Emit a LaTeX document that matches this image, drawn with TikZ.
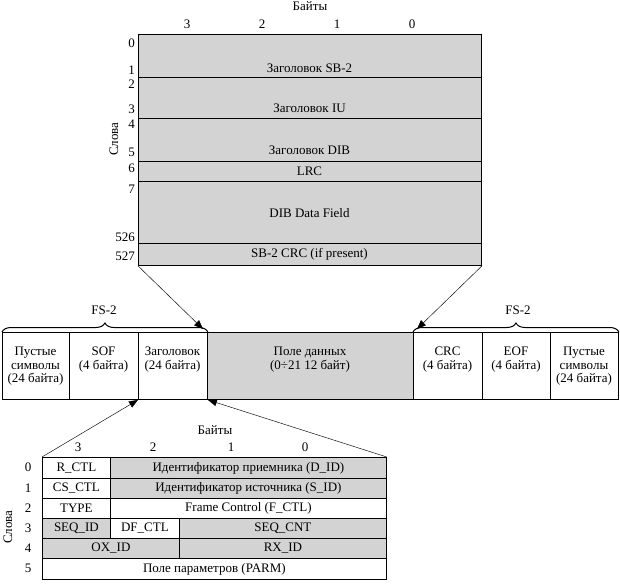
\documentclass[tikz,border=0pt]{standalone}
\usepackage{fontspec}
\setmainfont{Liberation Serif}
\usetikzlibrary{decorations.pathreplacing,arrows.meta}
\definecolor{cellgray}{RGB}{211,211,211}
\begin{document}
\begin{tikzpicture}[x=1pt,y=-1pt,
  every node/.style={font=\fontsize{13}{13.5}\selectfont, inner sep=0pt},
  box/.style={draw, line width=0.9pt, anchor=north west},
  gbox/.style={box, fill=cellgray},
  wbox/.style={box, fill=white},
  txt/.style={align=center, anchor=north},
  conn/.style={line width=0.45pt, -{Triangle[length=9pt,width=7pt]}},
  brc/.style={decorate, decoration={brace, amplitude=9pt}, line width=1pt},
]
\useasboundingbox (0,0) rectangle (620,585);

% ---------- top table ----------
\node[gbox, minimum width=343pt, minimum height=43pt] (sb2) at (138,34) {};
\node[gbox, minimum width=343pt, minimum height=41pt] (iu) at (138,77) {};
\node[gbox, minimum width=343pt, minimum height=43pt] (dib) at (138,118) {};
\node[gbox, minimum width=343pt, minimum height=20pt] (lrc) at (138,161) {};
\node[gbox, minimum width=343pt, minimum height=62pt] (dat) at (138,181) {};
\node[gbox, minimum width=343pt, minimum height=22pt] (sbcrc) at (138,243) {};

\node (tsb2) at (309.5,68) {Заголовок SB-2};
\node (tiu) at (309.5,108) {Заголовок IU};
\node (tdib) at (309.5,150) {Заголовок DIB};
\node (tlrc) at (309.5,171) {LRC};
\node (tdat) at (309.5,213) {DIB Data Field};
\node (tcrc) at (309.5,254) {SB-2 CRC (if present)};

\node (tb) at (310,6) {Байты};
\node (tb3) at (187,24) {3};
\node (tb2) at (262,24) {2};
\node (tb1) at (337,24) {1};
\node (tb0) at (412,24) {0};

\node[anchor=east] (w0) at (135,43) {0};
\node[anchor=east] (w1) at (135,70) {1};
\node[anchor=east] (w2) at (135,84) {2};
\node[anchor=east] (w3) at (135,109) {3};
\node[anchor=east] (w4) at (135,124) {4};
\node[anchor=east] (w5) at (135,152) {5};
\node[anchor=east] (w6) at (135,168) {6};
\node[anchor=east] (w7) at (135,189) {7};
\node[anchor=east] (w526) at (135,237) {526};
\node[anchor=east] (w527) at (135,256) {527};
\node[rotate=90] (tw) at (114,139) {Слова};

% ---------- frame row ----------
\node[wbox, minimum width=67pt, minimum height=67pt] (idle1) at (2,332) {};
\node[wbox, minimum width=69pt, minimum height=67pt] (sof) at (69,332) {};
\node[wbox, minimum width=69pt, minimum height=67pt] (hdr) at (138,332) {};
\node[gbox, minimum width=206pt, minimum height=67pt] (pay) at (207,332) {};
\node[wbox, minimum width=69pt, minimum height=67pt] (fcrc) at (413,332) {};
\node[wbox, minimum width=68pt, minimum height=67pt] (eof) at (482,332) {};
\node[wbox, minimum width=68pt, minimum height=67pt] (idle2) at (550,332) {};

\node[txt] (tidle1) at (35.5,347) {Пустые\\символы\\(24 байта)};
\node[txt] (tsof) at (103.5,347) {SOF\\(4 байта)};
\node[txt] (thdr) at (172.5,347) {Заголовок\\(24 байта)};
\node[txt] (tpay) at (310,347) {Поле данных\\(0÷21 12 байт)};
\node[txt] (tfcrc) at (447.5,347) {CRC\\(4 байта)};
\node[txt] (teof) at (516,347) {EOF\\(4 байта)};
\node[txt] (tidle2) at (584,347) {Пустые\\символы\\(24 байта)};

\draw[brc] (idle1.north west) -- (hdr.north east);
\draw[brc] (fcrc.north west) -- (idle2.north east);
\node (fs1) at (104,310) {FS-2};
\node (fs2) at (518,310) {FS-2};

\coordinate (tipL) at (203,329);
\coordinate (tipR) at (417,329);
\draw[conn] (sbcrc.south west) -- (tipL);
\draw[conn] (sbcrc.south east) -- (tipR);

% ---------- bottom table ----------
\node[wbox, minimum width=68pt, minimum height=21pt, line width=0.8pt] (rctl) at (42,457) {R\_CTL};
\node[gbox, minimum width=276pt, minimum height=21pt, line width=0.8pt] (did) at (110,457) {Идентификатор приемника (D\_ID)};
\node[wbox, minimum width=68pt, minimum height=20pt, line width=0.8pt] (csctl) at (42,478) {CS\_CTL};
\node[gbox, minimum width=276pt, minimum height=20pt, line width=0.8pt] (sid) at (110,478) {Идентификатор источника (S\_ID)};
\node[wbox, minimum width=68pt, minimum height=20pt, line width=0.8pt] (type) at (42,498) {TYPE};
\node[wbox, minimum width=276pt, minimum height=20pt, line width=0.8pt] (fctl) at (110,498) {Frame Control (F\_CTL)};
\node[gbox, minimum width=68pt, minimum height=20pt, line width=0.8pt] (seqid) at (42,518) {SEQ\_ID};
\node[wbox, minimum width=69pt, minimum height=20pt, line width=0.8pt] (dfctl) at (110,518) {DF\_CTL};
\node[gbox, minimum width=207pt, minimum height=20pt, line width=0.8pt] (seqcnt) at (179,518) {SEQ\_CNT};
\node[gbox, minimum width=137pt, minimum height=20pt, line width=0.8pt] (oxid) at (42,538) {OX\_ID};
\node[gbox, minimum width=207pt, minimum height=20pt, line width=0.8pt] (rxid) at (179,538) {RX\_ID};
\node[wbox, minimum width=344pt, minimum height=21pt, line width=0.8pt] (parm) at (42,558) {Поле параметров (PARM)};

\node (bb) at (215,430) {Байты};
\node (bb3) at (78,447) {3};
\node (bb2) at (153,447) {2};
\node (bb1) at (231,447) {1};
\node (bb0) at (305,447) {0};

\node (r0) at (28,467) {0};
\node (r1) at (28,488) {1};
\node (r2) at (28,508) {2};
\node (r3) at (28,528) {3};
\node (r4) at (28,548) {4};
\node (r5) at (28,568) {5};
\node[rotate=90] (bw) at (8,527) {Слова};

\draw[conn] (rctl.north west) -- (hdr.south west);
\draw[conn] (did.north east) -- (hdr.south east);
\end{tikzpicture}
\end{document}
